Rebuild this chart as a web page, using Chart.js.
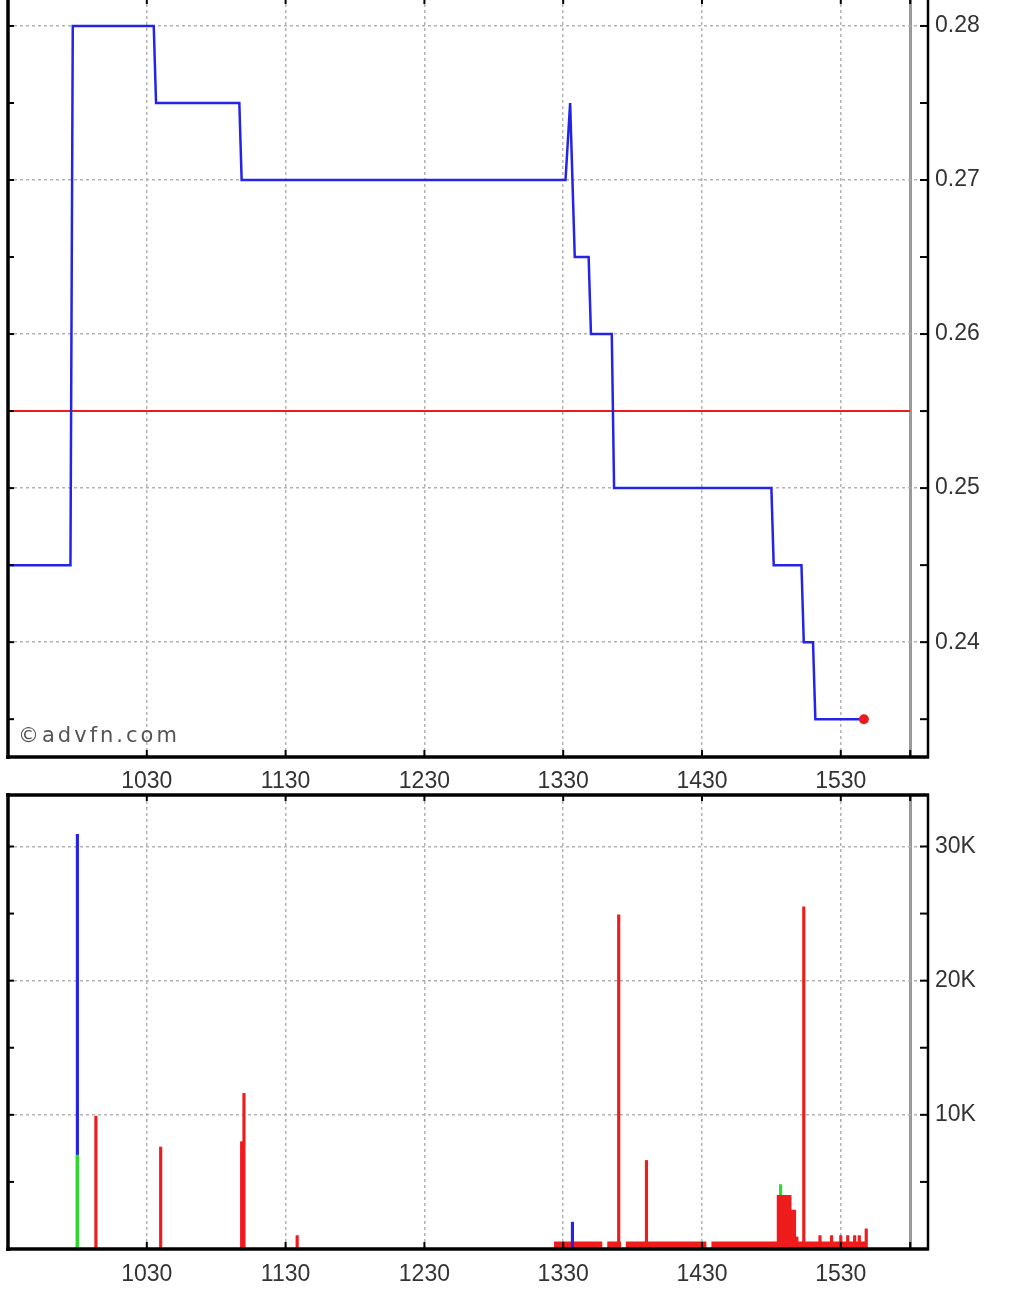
<!DOCTYPE html>
<html>
<head>
<meta charset="utf-8">
<script src="https://cdn.jsdelivr.net/npm/chart.js@4.4.1/dist/chart.umd.min.js"></script>
<style>
  html, body { margin:0; padding:0; background:#fff; width:1024px; height:1290px; overflow:hidden; }
  #w1 { position:absolute; left:0; top:-7px; width:1024px; height:807px; }
  #w2 { position:absolute; left:0; top:790px; width:1024px; height:500px; }
  #wm { position:absolute; left:18px; top:724px; font-family:"DejaVu Sans", Verdana, sans-serif; font-size:21px; line-height:22px; letter-spacing:3px; color:#555; }
</style>
</head>
<body>
<div id="w1"><canvas id="c1" width="1024" height="807"></canvas></div>
<div id="w2"><canvas id="c2" width="1024" height="500"></canvas></div>
<div id="wm">©advfn.com</div>
<script>
// ---------- DATA ----------
const priceTimes  = ['09:30','09:57','09:58','10:33','10:34','11:10','11:11','13:31','13:33','13:35','13:41','13:42','13:51','13:52','15:00','15:01','15:13','15:14','15:18','15:19','15:40'];
const priceValues = [0.245, 0.245, 0.280, 0.280, 0.275, 0.275, 0.270, 0.270, 0.275, 0.265, 0.265, 0.260, 0.260, 0.250, 0.250, 0.245, 0.245, 0.240, 0.240, 0.235, 0.235];

const prevCloseTimes = ['09:30','16:00'];
const prevCloseValue = 0.255;

const timeTickLabels   = ['1030','1130','1230','1330','1430','1530'];
const closeTickLabel   = '1600';
const priceTickLabels  = ['0.24','0.25','0.26','0.27','0.28'];
const volumeTickLabels = ['10K','20K','30K'];

const volBlueTimes  = ['10:00','13:34'];
const volBlue       = [30900, 2000];
const volGreenTimes = ['10:00','15:04'];
const volGreen      = [7000, 4800];
const volRedTimes   = ['10:08','10:36','11:11','11:12','11:35','13:54','14:06','15:03','15:04','15:05','15:06','15:07','15:08','15:09','15:10','15:11','15:14','15:21','15:26','15:30','15:33','15:36','15:38','15:41'];
const volRed        = [9900, 7600, 8000, 11600, 1000, 24900, 6600, 4000, 4000, 4000, 4000, 4000, 4000, 2900, 2900, 900, 25500, 1000, 1000, 1000, 1000, 1000, 1000, 1500];

// continuous runs of small trades (start, end, volume)
const bandStarts = ['13:26','13:49','13:57','14:34'];
const bandEnds   = ['13:47','13:55','14:32','15:41'];
const bandVolume = [550, 550, 550, 550];

// ---------- HELPERS ----------
const toMin = s => { const p = s.split(':'); return (+p[0]) * 60 + (+p[1]); };
const hhmmToMin = s => (+s.slice(0, s.length - 2)) * 60 + (+s.slice(-2));
const X_MIN = toMin('09:30');
const X_MAX = 967.7;
const closeMin = hhmmToMin(closeTickLabel);
const FONT = { family: '"Liberation Sans", Arial, sans-serif', size: 23 };
const LABEL_COLOR = '#333';
const GRID_COLOR = '#b3b3b3';
const RED = '#ee1c1c', BLUE = '#2424e6', GREEN = '#2ed82e';

Chart.defaults.font.family = FONT.family;

function xScale(height, pad) {
  return {
    type: 'linear', min: X_MIN, max: X_MAX, offset: false,
    afterBuildTicks(s) {
      s.ticks = timeTickLabels.map(hhmmToMin).concat([closeMin]).map(v => ({ value: v }));
    },
    afterFit(s) { s.height = height; s.paddingLeft = 0; s.paddingRight = 0; },
    ticks: {
      autoSkip: false, maxRotation: 0, minRotation: 0, padding: pad, font: FONT, color: LABEL_COLOR,
      callback: (v) => {
        const i = timeTickLabels.map(hhmmToMin).indexOf(v);
        return i >= 0 ? timeTickLabels[i] : '';
      }
    },
    grid: {
      offset: false,
      drawTicks: false,
      color: c => (c.tick && c.tick.value === closeMin) ? '#9a9a9a' : GRID_COLOR,
      lineWidth: c => (c.tick && c.tick.value === closeMin) ? 3 : 1.5
    },
    border: { display: false, dash: c => (c.tick && c.tick.value === closeMin) ? [] : [3, 3] }
  };
}

function yScale(min, max, majors, labels) {
  const minors = majors.map(v => v - (majors[1] - majors[0]) / 2);
  const all = minors.concat(majors);
  const isMajor = v => majors.some(m => Math.abs(m - v) < 1e-9);
  return {
    position: 'right', min: min, max: max,
    afterBuildTicks(s) { s.ticks = all.slice().sort((a, b) => a - b).map(v => ({ value: v })); },
    afterFit(s) { s.width = 96; s.paddingTop = 0; s.paddingBottom = 0; },
    ticks: {
      padding: 7, font: FONT, color: LABEL_COLOR, autoSkip: false,
      callback: (v) => {
        const i = majors.findIndex(m => Math.abs(m - v) < 1e-9);
        return i >= 0 ? labels[i] : '';
      }
    },
    grid: {
      drawTicks: false, lineWidth: 1.5,
      color: c => (c.tick && isMajor(c.tick.value)) ? GRID_COLOR : 'rgba(0,0,0,0)'
    },
    border: { display: false, dash: [3, 3] }
  };
}

const framePlugin = {
  id: 'frame',
  afterDraw(chart) {
    const { ctx, chartArea: { left, right, top, bottom }, scales: { x, y } } = chart;
    const ln = (a, b, c, d) => { ctx.beginPath(); ctx.moveTo(a, b); ctx.lineTo(c, d); ctx.stroke(); };
    ctx.save();
    ctx.strokeStyle = '#000';
    ctx.lineWidth = 2;
    x.ticks.forEach(t => {
      const px = x.getPixelForValue(t.value);
      ln(px, bottom, px, bottom - 7);
      ln(px, top, px, top + 6);
    });
    y.ticks.forEach(t => {
      const py = y.getPixelForValue(t.value);
      ln(left, py, left + 6, py);
      ln(right, py, right - 8, py);
    });
    ctx.lineWidth = 3.5;
    ln(left, top - 2, left, bottom + 2);
    ln(left - 2, bottom, right + 1, bottom);
    ln(left - 2, top, right + 1, top);
    ctx.lineWidth = 2.5;
    ln(right, top - 1, right, bottom + 1);
    ctx.restore();
  }
};

// ---------- PRICE CHART ----------
const priceMajors = priceTickLabels.map(Number);
new Chart(document.getElementById('c1'), {
  type: 'line',
  data: {
    datasets: [
      {
        data: priceTimes.map((t, i) => ({ x: toMin(t), y: priceValues[i] })),
        borderColor: BLUE, borderWidth: 2.5, tension: 0,
        pointRadius: c => c.dataIndex === priceTimes.length - 1 ? 5 : 0,
        pointBackgroundColor: RED, pointBorderColor: RED, pointBorderWidth: 0
      },
      {
        data: prevCloseTimes.map(t => ({ x: toMin(t), y: prevCloseValue })),
        borderColor: RED, borderWidth: 2, pointRadius: 0, tension: 0
      }
    ]
  },
  options: {
    responsive: false, animation: false, events: [],
    layout: { padding: { left: 8, top: 0, right: 0, bottom: 0 } },
    plugins: { legend: { display: false }, tooltip: { enabled: false } },
    scales: {
      x: xScale(43, 11),
      y: yScale(0.232545, 0.281815, priceMajors, priceTickLabels)
    }
  },
  plugins: [framePlugin]
});

// ---------- VOLUME CHART ----------
const volMajors = volumeTickLabels.map(s => parseFloat(s) * 1000);
const bandData = [];
bandStarts.forEach((s, i) => {
  bandData.push({ x: toMin(s), y: bandVolume[i] });
  bandData.push({ x: toMin(bandEnds[i]), y: bandVolume[i] });
  bandData.push({ x: toMin(bandEnds[i]) + 0.5, y: null });
});
const barDs = (times, vals, color) => ({
  type: 'bar',
  data: times.map((t, i) => ({ x: toMin(t), y: vals[i] })),
  backgroundColor: color, borderWidth: 0, barThickness: 2.5, grouped: false
});

new Chart(document.getElementById('c2'), {
  type: 'bar',
  data: {
    datasets: [
      barDs(volRedTimes, volRed, RED),
      barDs(volGreenTimes, volGreen, GREEN),
      barDs(volBlueTimes, volBlue, BLUE),
      {
        type: 'line', data: bandData, borderWidth: 0, borderColor: RED,
        backgroundColor: RED, pointRadius: 0, fill: 'origin', spanGaps: false, tension: 0
      }
    ]
  },
  options: {
    responsive: false, animation: false, events: [],
    layout: { padding: { left: 8, top: 5, right: 0, bottom: 0 } },
    plugins: { legend: { display: false }, tooltip: { enabled: false } },
    scales: {
      x: xScale(41, 12),
      y: yScale(0, 33838, volMajors, volumeTickLabels)
    }
  },
  plugins: [framePlugin]
});
</script>
</body>
</html>
